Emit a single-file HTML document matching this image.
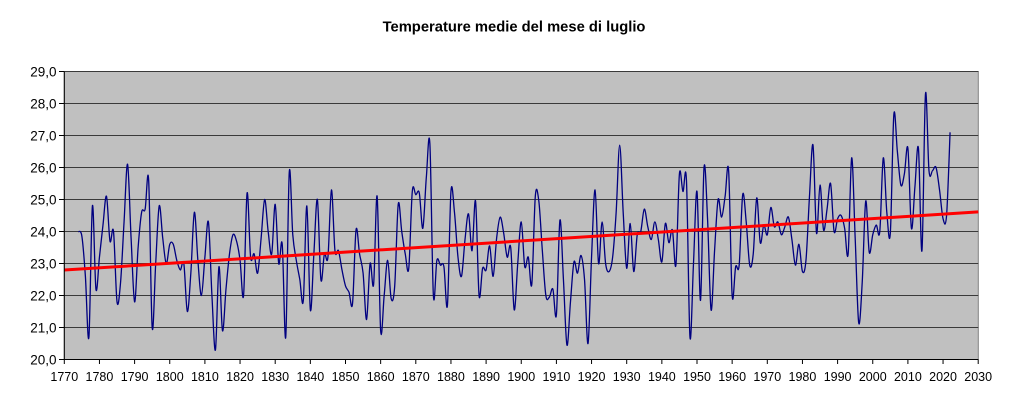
<!DOCTYPE html>
<html>
<head>
<meta charset="utf-8">
<style>
  html,body{margin:0;padding:0;background:#fff;}
  body{width:1009px;height:405px;overflow:hidden;}
  svg{display:block;}
  text{font-family:"Liberation Sans",Arial,sans-serif;fill:#000;}
</style>
</head>
<body>
<svg id="chart" width="1009" height="405" viewBox="0 0 1009 405" xmlns="http://www.w3.org/2000/svg">
  <rect x="0" y="0" width="1009" height="405" fill="#ffffff"/>
  <text x="514" y="31.5" text-anchor="middle" font-size="14.75" font-weight="bold">Temperature medie del mese di luglio</text>

  <!-- plot area -->
  <rect x="64.3" y="71.5" width="914" height="288" fill="#c0c0c0" stroke="#808080" stroke-width="1"/>

  <!-- gridlines -->
  <g stroke="#3a3a3a" stroke-width="1">
    <line x1="64.3" y1="71.5" x2="978.3" y2="71.5"/>
    <line x1="64.3" y1="103.5" x2="978.3" y2="103.5"/>
    <line x1="64.3" y1="135.5" x2="978.3" y2="135.5"/>
    <line x1="64.3" y1="167.5" x2="978.3" y2="167.5"/>
    <line x1="64.3" y1="199.5" x2="978.3" y2="199.5"/>
    <line x1="64.3" y1="231.5" x2="978.3" y2="231.5"/>
    <line x1="64.3" y1="263.5" x2="978.3" y2="263.5"/>
    <line x1="64.3" y1="295.5" x2="978.3" y2="295.5"/>
    <line x1="64.3" y1="327.5" x2="978.3" y2="327.5"/>
  </g>

  <!-- series placeholder -->
  <path id="series" d="" fill="none" stroke="#000080" stroke-width="1.3" stroke-linejoin="round"/>

  <!-- trend line -->
  <line x1="64.3" y1="270" x2="978.3" y2="211.9" stroke="#ff0000" stroke-width="3"/>

  <!-- axes -->
  <g stroke="#000" stroke-width="1">
    <line x1="64.3" y1="71.5" x2="64.3" y2="359.5"/>
    <line x1="64.3" y1="359.5" x2="978.3" y2="359.5"/>
    <!-- y ticks -->
    <line x1="59" y1="71.5" x2="64.3" y2="71.5"/>
    <line x1="59" y1="103.5" x2="64.3" y2="103.5"/>
    <line x1="59" y1="135.5" x2="64.3" y2="135.5"/>
    <line x1="59" y1="167.5" x2="64.3" y2="167.5"/>
    <line x1="59" y1="199.5" x2="64.3" y2="199.5"/>
    <line x1="59" y1="231.5" x2="64.3" y2="231.5"/>
    <line x1="59" y1="263.5" x2="64.3" y2="263.5"/>
    <line x1="59" y1="295.5" x2="64.3" y2="295.5"/>
    <line x1="59" y1="327.5" x2="64.3" y2="327.5"/>
    <line x1="59" y1="359.5" x2="64.3" y2="359.5"/>
    <!-- x ticks -->
    <line x1="64.3" y1="359.5" x2="64.3" y2="364"/>
    <line x1="99.45" y1="359.5" x2="99.45" y2="364"/>
    <line x1="134.6" y1="359.5" x2="134.6" y2="364"/>
    <line x1="169.75" y1="359.5" x2="169.75" y2="364"/>
    <line x1="204.9" y1="359.5" x2="204.9" y2="364"/>
    <line x1="240.05" y1="359.5" x2="240.05" y2="364"/>
    <line x1="275.2" y1="359.5" x2="275.2" y2="364"/>
    <line x1="310.35" y1="359.5" x2="310.35" y2="364"/>
    <line x1="345.5" y1="359.5" x2="345.5" y2="364"/>
    <line x1="380.65" y1="359.5" x2="380.65" y2="364"/>
    <line x1="415.8" y1="359.5" x2="415.8" y2="364"/>
    <line x1="450.95" y1="359.5" x2="450.95" y2="364"/>
    <line x1="486.1" y1="359.5" x2="486.1" y2="364"/>
    <line x1="521.25" y1="359.5" x2="521.25" y2="364"/>
    <line x1="556.4" y1="359.5" x2="556.4" y2="364"/>
    <line x1="591.55" y1="359.5" x2="591.55" y2="364"/>
    <line x1="626.7" y1="359.5" x2="626.7" y2="364"/>
    <line x1="661.85" y1="359.5" x2="661.85" y2="364"/>
    <line x1="697" y1="359.5" x2="697" y2="364"/>
    <line x1="732.15" y1="359.5" x2="732.15" y2="364"/>
    <line x1="767.3" y1="359.5" x2="767.3" y2="364"/>
    <line x1="802.45" y1="359.5" x2="802.45" y2="364"/>
    <line x1="837.6" y1="359.5" x2="837.6" y2="364"/>
    <line x1="872.75" y1="359.5" x2="872.75" y2="364"/>
    <line x1="907.9" y1="359.5" x2="907.9" y2="364"/>
    <line x1="943.05" y1="359.5" x2="943.05" y2="364"/>
    <line x1="978.2" y1="359.5" x2="978.2" y2="364"/>
  </g>

  <!-- y labels -->
  <g font-size="13.5" text-anchor="end">
    <text x="56.5" y="76.3">29,0</text>
    <text x="56.5" y="108.3">28,0</text>
    <text x="56.5" y="140.3">27,0</text>
    <text x="56.5" y="172.3">26,0</text>
    <text x="56.5" y="204.3">25,0</text>
    <text x="56.5" y="236.3">24,0</text>
    <text x="56.5" y="268.3">23,0</text>
    <text x="56.5" y="300.3">22,0</text>
    <text x="56.5" y="332.3">21,0</text>
    <text x="56.5" y="364.3">20,0</text>
  </g>

  <!-- x labels -->
  <g font-size="12.5" text-anchor="middle">
    <text x="64.3" y="381">1770</text>
    <text x="99.45" y="381">1780</text>
    <text x="134.6" y="381">1790</text>
    <text x="169.75" y="381">1800</text>
    <text x="204.9" y="381">1810</text>
    <text x="240.05" y="381">1820</text>
    <text x="275.2" y="381">1830</text>
    <text x="310.35" y="381">1840</text>
    <text x="345.5" y="381">1850</text>
    <text x="380.65" y="381">1860</text>
    <text x="415.8" y="381">1870</text>
    <text x="450.95" y="381">1880</text>
    <text x="486.1" y="381">1890</text>
    <text x="521.25" y="381">1900</text>
    <text x="556.4" y="381">1910</text>
    <text x="591.55" y="381">1920</text>
    <text x="626.7" y="381">1930</text>
    <text x="661.85" y="381">1940</text>
    <text x="697" y="381">1950</text>
    <text x="732.15" y="381">1960</text>
    <text x="767.3" y="381">1970</text>
    <text x="802.45" y="381">1980</text>
    <text x="837.6" y="381">1990</text>
    <text x="872.75" y="381">2000</text>
    <text x="907.9" y="381">2010</text>
    <text x="943.05" y="381">2020</text>
    <text x="978.2" y="381">2030</text>
  </g>
</svg>
<script>
(function(){
  var d=[
  24.0,23.85,22.6,20.7,24.8,22.2,
  23.2,24.2,25.1,23.7,24.0,21.8,22.4,24.3,26.1,23.8,
  21.8,23.5,24.6,24.7,25.6,21.0,23.0,24.8,23.8,23.0,
  23.6,23.6,23.1,22.8,23.0,21.5,22.7,24.6,23.1,22.0,
  23.2,24.3,22.0,20.3,22.9,20.9,22.2,23.3,23.9,23.7,
  23.1,22.0,25.2,23.2,23.3,22.7,23.8,25.0,24.0,23.3,
  24.85,23.0,23.6,20.7,25.85,23.9,23.1,22.5,21.85,24.8,
  21.55,23.3,25.0,22.5,23.3,23.2,25.3,23.4,23.4,22.8,
  22.3,22.1,21.75,24.05,23.3,22.7,21.25,23.0,22.35,25.1,
  20.9,22.0,23.1,21.9,22.3,24.85,24.0,23.3,22.85,25.25,
  25.15,25.2,24.1,25.7,26.75,22.0,23.1,22.95,22.9,21.7,
  25.25,24.6,23.2,22.6,23.75,24.55,23.4,24.95,22.0,22.85,
  22.8,23.55,22.6,23.8,24.45,23.95,23.2,23.5,21.55,23.0,
  24.3,22.9,23.2,22.35,25.1,24.95,23.4,22.0,21.95,22.2,
  21.4,24.35,22.5,20.45,21.8,23.05,22.7,23.25,22.5,20.5,
  23.2,25.3,23.0,24.3,23.0,22.75,23.2,24.6,26.7,24.6,
  22.85,24.25,22.75,23.9,24.0,24.7,24.15,23.75,24.3,23.75,
  23.05,24.25,23.65,24.05,22.95,25.8,25.25,25.6,20.7,23.0,
  25.25,21.85,26.0,24.4,21.55,23.4,25.0,24.45,25.1,25.9,
  22.0,22.9,22.95,25.15,24.3,22.95,23.3,25.05,23.65,24.2,
  23.9,24.75,24.15,24.3,23.9,24.15,24.45,23.75,22.95,23.6,
  22.75,23.1,25.1,26.7,23.95,25.45,24.05,24.7,25.5,24.0,
  24.4,24.5,24.1,23.3,26.3,23.8,21.15,22.4,24.95,23.35,
  23.9,24.2,24.0,26.3,24.6,23.95,27.65,26.5,25.45,25.8,
  26.6,24.1,25.4,26.6,23.4,28.3,25.9,25.9,26.0,25.3,
  24.4,24.5,27.1
  ];
  var p=[],i;
  for(i=0;i<d.length;i++){
    p.push([64.3+(1774+i-1770)*3.515, 71.5+(29-d[i])*32]);
  }
  function f(n){return n.toFixed(2);}
  var s='M'+f(p[0][0])+' '+f(p[0][1]);
  var n=p.length;
  for(i=0;i<n-1;i++){
    var p0=p[Math.max(i-1,0)],p1=p[i],p2=p[i+1],p3=p[Math.min(i+2,n-1)];
    var c1x=p1[0]+(p2[0]-p0[0])/6,c1y=p1[1]+(p2[1]-p0[1])/6;
    var c2x=p2[0]-(p3[0]-p1[0])/6,c2y=p2[1]-(p3[1]-p1[1])/6;
    s+=' C'+f(c1x)+' '+f(c1y)+' '+f(c2x)+' '+f(c2y)+' '+f(p2[0])+' '+f(p2[1]);
  }
  document.getElementById('series').setAttribute('d',s);
})();
</script>
</body>
</html>
